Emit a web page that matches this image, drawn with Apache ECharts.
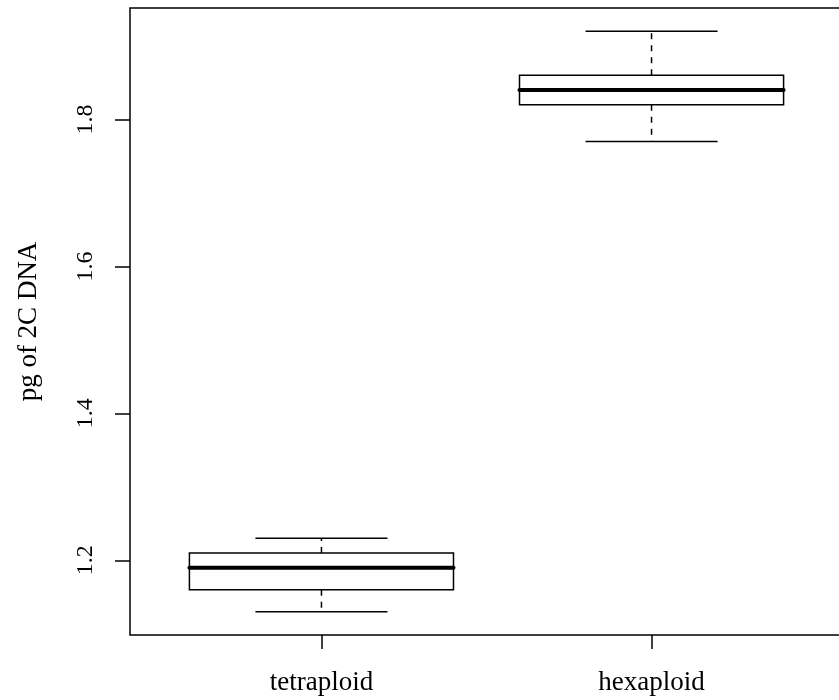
<!DOCTYPE html>
<html>
<head>
<meta charset="utf-8">
<script src="https://cdn.jsdelivr.net/npm/echarts@6/dist/echarts.min.js"></script>
<style>
  html, body { margin: 0; padding: 0; background: #fff; }
  #chart { width: 839px; height: 700px; }
</style>
</head>
<body>
<div id="chart"></div>
<script>
// ---- data ----
const categories   = ['tetraploid', 'hexaploid'];
const whiskerLow   = [1.13, 1.77];
const quartile1    = [1.16, 1.82];
const medians      = [1.19, 1.84];
const quartile3    = [1.21, 1.86];
const whiskerHigh  = [1.23, 1.92];
const yTickValues  = [1.2, 1.4, 1.6, 1.8];
const yAxisTitle   = 'pg of 2C DNA';

// R-style axis limits: data range extended by 4% on each side
const dataMin = Math.min(...whiskerLow), dataMax = Math.max(...whiskerHigh);
const pad = (dataMax - dataMin) * 0.04;
const yMin = dataMin - pad, yMax = dataMax + pad;
const xPositions = categories.map((c, i) => i + 1);
const xMin = 0.5 - 0.04 * categories.length, xMax = categories.length + 0.5 + 0.04 * categories.length;

const seriesData = categories.map((c, i) => [xPositions[i], whiskerLow[i], quartile1[i], medians[i], quartile3[i], whiskerHigh[i]]);

const FONT = '"Liberation Serif", "DejaVu Serif", serif';

function renderBox(params, api) {
  const x = api.value(0);
  const pLo  = api.coord([x, api.value(1)]);
  const pQ1  = api.coord([x, api.value(2)]);
  const pMed = api.coord([x, api.value(3)]);
  const pQ3  = api.coord([x, api.value(4)]);
  const pHi  = api.coord([x, api.value(5)]);
  const halfBox = api.size([0.4, 0])[0];
  const halfCap = api.size([0.2, 0])[0];
  const cx = pMed[0];
  const thin = { stroke: '#000', lineWidth: 1.5, fill: null };
  const dashed = { stroke: '#000', lineWidth: 1.5, lineDash: [6, 6] };
  return {
    type: 'group',
    children: [
      { type: 'line', shape: { x1: cx, y1: pQ3[1], x2: cx, y2: pHi[1] }, style: dashed },
      { type: 'line', shape: { x1: cx, y1: pQ1[1], x2: cx, y2: pLo[1] }, style: dashed },
      { type: 'line', shape: { x1: cx - halfCap, y1: pHi[1], x2: cx + halfCap, y2: pHi[1] }, style: thin },
      { type: 'line', shape: { x1: cx - halfCap, y1: pLo[1], x2: cx + halfCap, y2: pLo[1] }, style: thin },
      { type: 'rect', shape: { x: cx - halfBox, y: pQ3[1], width: 2 * halfBox, height: pQ1[1] - pQ3[1] },
        style: { stroke: '#000', lineWidth: 1.5, fill: 'rgba(0,0,0,0)' } },
      { type: 'line', shape: { x1: cx - halfBox, y1: pMed[1], x2: cx + halfBox, y2: pMed[1] },
        style: { stroke: '#000', lineWidth: 4, lineCap: 'round' } }
    ]
  };
}

const chart = echarts.init(document.getElementById('chart'), null, { renderer: 'canvas' });
chart.setOption({
  backgroundColor: '#ffffff',
  animation: false,
  grid: {
    left: 130, top: 8, width: 713, height: 627,
    outerBoundsMode: 'none',
    containLabel: false,
    show: true, borderColor: '#000', borderWidth: 1.5, backgroundColor: 'transparent'
  },
  xAxis: {
    type: 'value',
    min: xMin, max: xMax,
    splitLine: { show: false },
    axisLine: { show: false },
    axisTick: { show: true, length: 14, inside: false, customValues: xPositions,
                lineStyle: { color: '#000', width: 1.5 } },
    axisLabel: {
      customValues: xPositions,
      formatter: v => categories[Math.round(v) - 1] || '',
      color: '#000', fontFamily: FONT, fontSize: 27, margin: 34
    }
  },
  yAxis: {
    type: 'value',
    min: yMin, max: yMax,
    splitLine: { show: false },
    axisLine: { show: false },
    axisTick: { show: true, length: 15, inside: false, customValues: yTickValues,
                lineStyle: { color: '#000', width: 1.5 } },
    axisLabel: {
      customValues: yTickValues,
      formatter: v => v.toFixed(1),
      rotate: 90, color: '#000', fontFamily: FONT, fontSize: 24, margin: 32
    },
    name: yAxisTitle,
    nameLocation: 'middle',
    nameRotate: 90,
    nameGap: 88,
    nameTextStyle: { color: '#000', fontFamily: FONT, fontSize: 27 }
  },
  series: [{
    type: 'custom',
    renderItem: renderBox,
    data: seriesData,
    encode: { x: 0, y: [1, 2, 3, 4, 5] },
    clip: false,
    silent: true
  }]
});
</script>
</body>
</html>
